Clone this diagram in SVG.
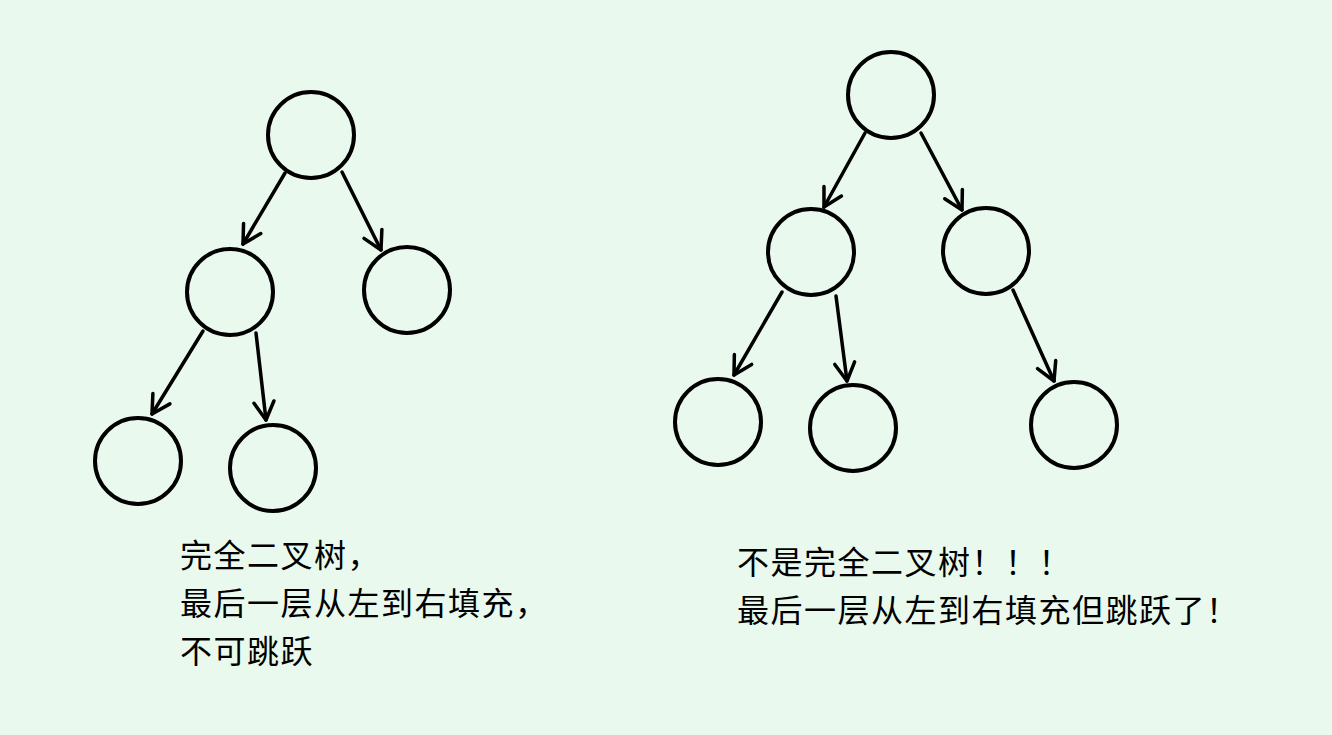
<svg xmlns="http://www.w3.org/2000/svg" width="1332" height="735" viewBox="0 0 1332 735">
<style>
.n{fill:none;stroke:#000;stroke-width:4}
.e{fill:none;stroke:#000;stroke-width:3.5;stroke-linecap:round;marker-end:url(#a)}
text{font-family:"Noto Sans CJK SC",sans-serif;font-size:32px;letter-spacing:1.5px;fill:#000}
</style>
<defs><marker id="a" viewBox="0 0 24 24" refX="21" refY="12" markerWidth="24" markerHeight="24" markerUnits="userSpaceOnUse" orient="auto"><path d="M3,2 L21,12 L3,22" fill="none" stroke="#000" stroke-width="3.5" stroke-linecap="round" stroke-linejoin="round"/></marker></defs>
<rect width="1332" height="735" fill="#e9f9ed"/>
<g id="connectors">
<path class="e" d="M285,173 L243,244"/><path class="e" d="M342,172 L381,250"/>
<path class="e" d="M203,331 L152,414"/><path class="e" d="M256,333 L266,420"/>
<path class="e" d="M865,133 L824,207"/><path class="e" d="M921,133 L962,210"/>
<path class="e" d="M782,292 L734,375"/><path class="e" d="M836,296 L847,381"/>
<path class="e" d="M1013,290 L1054,381"/>
</g>
<g id="L0"><circle class="n" cx="311" cy="135" r="43"/></g>
<g id="L1"><circle class="n" cx="230" cy="292" r="43"/></g>
<g id="L2"><circle class="n" cx="407" cy="290" r="43"/></g>
<g id="L3"><circle class="n" cx="138" cy="461" r="43"/></g>
<g id="L4"><circle class="n" cx="273" cy="468" r="43"/></g>
<g id="R0"><circle class="n" cx="891" cy="95" r="43"/></g>
<g id="R1"><circle class="n" cx="811" cy="252" r="43"/></g>
<g id="R2"><circle class="n" cx="986" cy="251" r="43"/></g>
<g id="R3"><circle class="n" cx="718" cy="422" r="43"/></g>
<g id="R4"><circle class="n" cx="853" cy="428" r="43"/></g>
<g id="R5"><circle class="n" cx="1074" cy="425" r="43"/></g>
<g id="labels">
<text x="180" y="567">完全二叉树，</text>
<text x="180" y="615">最后一层从左到右填充，</text>
<text x="180" y="663">不可跳跃</text>
<text x="737" y="574">不是完全二叉树！！！</text>
<text x="737" y="622">最后一层从左到右填充但跳跃了！</text>
</g>
</svg>
